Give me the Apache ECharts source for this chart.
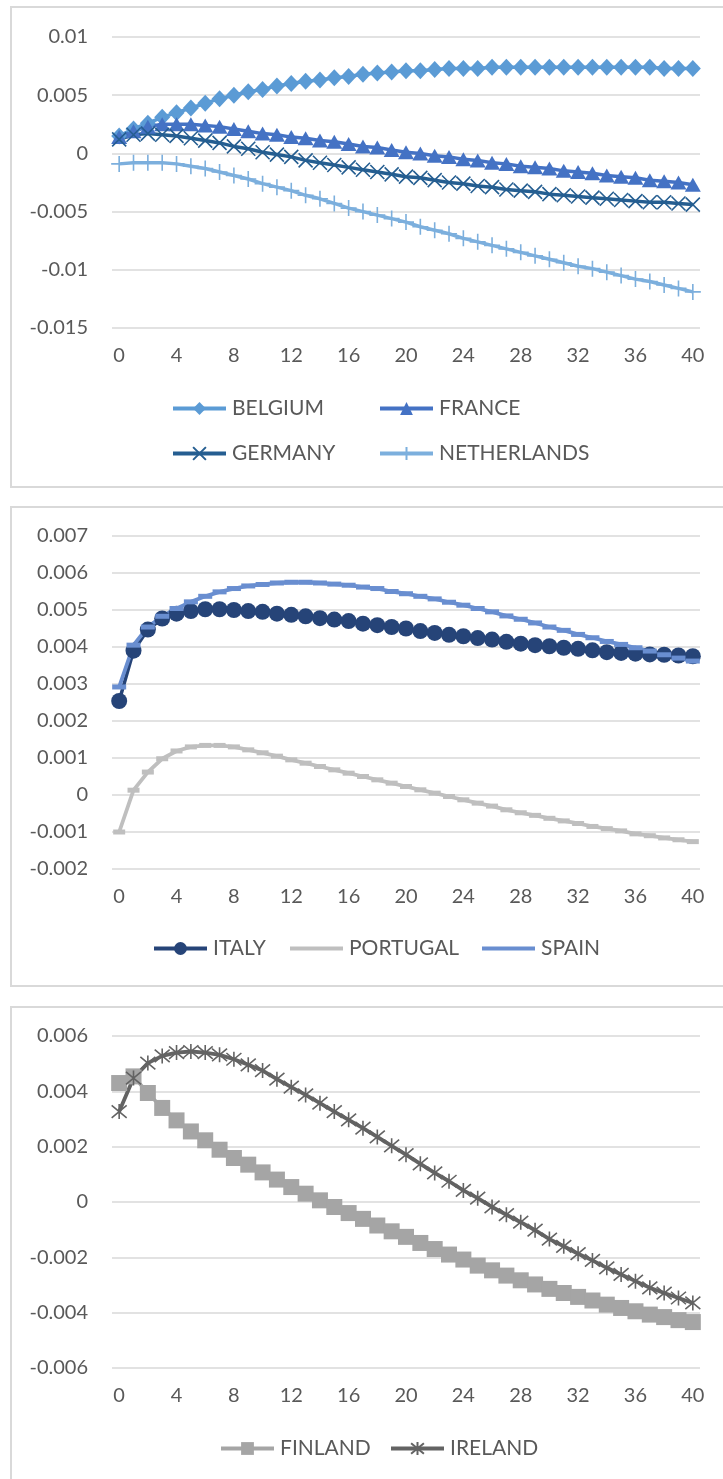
<!DOCTYPE html>
<html>
<head>
<meta charset="utf-8">
<script src="https://cdn.jsdelivr.net/npm/echarts@6/dist/echarts.min.js"></script>
<style>
html,body{margin:0;padding:0;background:#fff;}
#c{width:723px;height:1479px;}
</style>
</head>
<body>
<div id="c"></div>
<script>
// ---- data ----
const periods = Array.from({length: 41}, (_, i) => String(i));

const belgium = [0.0015,0.0021,0.0026,0.0031,0.0035,0.0039,0.0043,0.0047,0.0050,0.0053,0.0055,0.0058,0.0060,0.0062,0.0063,0.0065,0.0066,0.0068,0.0069,0.0070,0.0071,0.0071,0.0072,0.0073,0.0073,0.0073,0.0074,0.0074,0.0074,0.0074,0.0074,0.0074,0.0074,0.0074,0.0074,0.0074,0.0074,0.0074,0.0073,0.0073,0.0073];
const france = [0.0014,0.0019,0.0023,0.0025,0.0025,0.0025,0.0024,0.0023,0.0021,0.0019,0.0017,0.0016,0.0014,0.0013,0.0011,0.0010,0.0008,0.0006,0.0005,0.0003,0.0001,0.0000,-0.0002,-0.0003,-0.0005,-0.0006,-0.0008,-0.0009,-0.0011,-0.0012,-0.0013,-0.0015,-0.0016,-0.0017,-0.0019,-0.0020,-0.0021,-0.0023,-0.0024,-0.0025,-0.0027];
const germany = [0.0012,0.0016,0.0017,0.0016,0.0015,0.0013,0.0011,0.0009,0.0006,0.0004,0.0001,-0.0001,-0.0003,-0.0006,-0.0008,-0.0010,-0.0012,-0.0014,-0.0016,-0.0018,-0.0020,-0.0021,-0.0023,-0.0025,-0.0026,-0.0028,-0.0029,-0.0031,-0.0032,-0.0033,-0.0035,-0.0036,-0.0037,-0.0038,-0.0039,-0.0040,-0.0041,-0.0042,-0.0042,-0.0043,-0.0044];
const netherlands = [-0.0009,-0.0008,-0.0008,-0.0008,-0.0009,-0.0011,-0.0013,-0.0016,-0.0019,-0.0022,-0.0026,-0.0029,-0.0032,-0.0036,-0.0039,-0.0043,-0.0047,-0.0050,-0.0053,-0.0056,-0.0059,-0.0063,-0.0066,-0.0069,-0.0073,-0.0076,-0.0079,-0.0082,-0.0085,-0.0088,-0.0091,-0.0094,-0.0097,-0.0099,-0.0102,-0.0105,-0.0108,-0.0110,-0.0113,-0.0116,-0.0119];

const italy = [0.00254,0.0039,0.00447,0.00477,0.0049,0.00497,0.00502,0.00502,0.0050,0.00497,0.00495,0.0049,0.00487,0.00483,0.00478,0.00474,0.0047,0.00463,0.00459,0.00454,0.0045,0.00443,0.00438,0.00433,0.00429,0.00424,0.0042,0.00414,0.00409,0.00405,0.00402,0.00398,0.00395,0.00391,0.00386,0.00384,0.00382,0.0038,0.00379,0.00377,0.00375];
const portugal = [-0.001,0.00013,0.00062,0.00098,0.00119,0.0013,0.00134,0.00134,0.0013,0.00122,0.00114,0.00105,0.00095,0.00086,0.00077,0.00068,0.00059,0.0005,0.00041,0.00032,0.00023,0.00014,0.00005,-0.00004,-0.00013,-0.00022,-0.0003,-0.0004,-0.00048,-0.00055,-0.00063,-0.0007,-0.00077,-0.00085,-0.00091,-0.00097,-0.00105,-0.0011,-0.00116,-0.00121,-0.00126];
const spain = [0.00292,0.00405,0.00454,0.00483,0.00504,0.00522,0.00537,0.00549,0.00558,0.00565,0.00569,0.00573,0.00575,0.00575,0.00573,0.0057,0.00567,0.00562,0.00558,0.0055,0.00544,0.00537,0.0053,0.00521,0.00513,0.00504,0.00495,0.00484,0.00475,0.00465,0.00454,0.00445,0.00434,0.00425,0.00415,0.00407,0.00398,0.00389,0.00379,0.0037,0.00362];

const finland = [0.0043,0.00454,0.00394,0.0034,0.00295,0.00255,0.00223,0.00189,0.00159,0.00135,0.00107,0.00081,0.00054,0.0003,0.00006,-0.00018,-0.0004,-0.00061,-0.00085,-0.00106,-0.00126,-0.00148,-0.0017,-0.0019,-0.00208,-0.0023,-0.00247,-0.00266,-0.00283,-0.00298,-0.00314,-0.00329,-0.00343,-0.00356,-0.00371,-0.00383,-0.00395,-0.00407,-0.00416,-0.00427,-0.00434];
const ireland = [0.00327,0.00448,0.00502,0.00528,0.0054,0.00544,0.0054,0.00532,0.00516,0.00496,0.00475,0.00444,0.00415,0.00387,0.00357,0.00327,0.00297,0.00267,0.00235,0.00203,0.00171,0.00138,0.00105,0.00075,0.00042,0.00014,-0.00018,-0.00046,-0.00073,-0.00102,-0.00134,-0.0016,-0.00187,-0.00211,-0.00238,-0.00262,-0.00286,-0.0031,-0.00329,-0.00347,-0.00365];

// ---- styling ----
const FONT = 'Lato';
const TXT = '#595959';
const GRIDC = '#d9d9d9';
const X_PATH = 'path://M0,0L10,10M10,0L0,10';
const PLUS_PATH = 'path://M5,0L5,10M0,5L10,5';
const STAR_PATH = 'path://M0,0L10,10M10,0L0,10M5,-1L5,11';
const BAR_ICON = 'path://M0,0L53,0L53,4L0,4Z';

const grids = [
  {left: 112, width: 588, top: 37, height: 291},
  {left: 112, width: 588, top: 536, height: 333},
  {left: 112, width: 588, top: 1036, height: 332}
];
const yRanges = [
  {min: -0.015, max: 0.01, interval: 0.005},
  {min: -0.002, max: 0.007, interval: 0.001},
  {min: -0.006, max: 0.006, interval: 0.002}
];

const xAxes = grids.map((g, i) => ({
  type: 'category', gridIndex: i, data: periods, boundaryGap: true,
  axisLine: {show: false}, axisTick: {show: false},
  axisLabel: {interval: 3, color: TXT, fontFamily: FONT, fontSize: 20, margin: 18}
}));
const yAxes = yRanges.map((r, i) => ({
  type: 'value', gridIndex: i, min: r.min, max: r.max, interval: r.interval,
  axisLine: {show: false}, axisTick: {show: false},
  axisLabel: {color: TXT, fontFamily: FONT, fontSize: 20, margin: 24,
    formatter: v => String(parseFloat(v.toFixed(4)) === 0 ? 0 : parseFloat(v.toFixed(4)))},
  splitLine: {lineStyle: {color: GRIDC, width: 1.5}}
}));

function ser(name, data, idx, color, symbol, size, opts) {
  opts = opts || {};
  return {
    name, type: 'line', data, xAxisIndex: idx, yAxisIndex: idx,
    symbol, symbolSize: size, showSymbol: true, showAllSymbol: true, smooth: false,
    lineStyle: {color, width: opts.lw || 3.5},
    itemStyle: Object.assign({color}, opts.item || {}),
    emphasis: {disabled: true}, animation: false
  };
}

const series = [
  ser('BELGIUM', belgium, 0, '#5b9bd5', 'diamond', [16, 17], {lw: 3.5}),
  ser('FRANCE', france, 0, '#4472c4', 'triangle', [16, 14], {lw: 3.5}),
  ser('GERMANY', germany, 0, '#255e91', X_PATH, 14, {lw: 3.5, item: {borderColor: '#255e91', borderWidth: 1.6}}),
  ser('NETHERLANDS', netherlands, 0, '#7cafdd', PLUS_PATH, 16, {lw: 3.5, item: {borderColor: '#7cafdd', borderWidth: 1.6}}),
  ser('ITALY', italy, 1, '#264478', 'circle', 16, {lw: 3.5}),
  ser('PORTUGAL', portugal, 1, '#bfbfbf', 'rect', [12, 5], {lw: 3.8}),
  ser('SPAIN', spain, 1, '#698ed0', 'rect', [14, 5], {lw: 3.8}),
  ser('FINLAND', finland, 2, '#a5a5a5', 'rect', 16, {lw: 3.5}),
  ser('IRELAND', ireland, 2, '#636363', STAR_PATH, 15, {lw: 3.8, item: {borderColor: '#636363', borderWidth: 1.6}})
];

function leg(name, left, cy, icon) {
  const d = icon ? {name, icon} : name;
  return {
    data: [d], left, top: cy - 10, padding: 0, itemWidth: 53, itemHeight: 16, itemGap: 0,
    selectedMode: false,
    lineStyle: {width: 4},
    textStyle: {color: TXT, fontFamily: FONT, fontSize: 21, padding: [0, 0, 0, 1]}
  };
}
const legends = [
  leg('BELGIUM', 171, 408), leg('FRANCE', 378, 408),
  leg('GERMANY', 171, 453), leg('NETHERLANDS', 378, 453),
  leg('ITALY', 152, 948), leg('PORTUGAL', 290, 948, BAR_ICON), leg('SPAIN', 482, 948, BAR_ICON),
  leg('FINLAND', 219, 1448), leg('IRELAND', 389, 1448)
];

const panels = [[7, 480], [507, 479], [1007, 600]];
const graphic = panels.map(p => ({
  type: 'rect', shape: {x: 11, y: p[0], width: 800, height: p[1]},
  style: {fill: 'none', stroke: GRIDC, lineWidth: 2}, silent: true, z: -1
}));

const chart = echarts.init(document.getElementById('c'), null, {renderer: 'canvas'});
chart.setOption({
  animation: false,
  backgroundColor: '#fff',
  grid: grids,
  xAxis: xAxes,
  yAxis: yAxes,
  legend: legends,
  series,
  graphic
});
</script>
</body>
</html>
